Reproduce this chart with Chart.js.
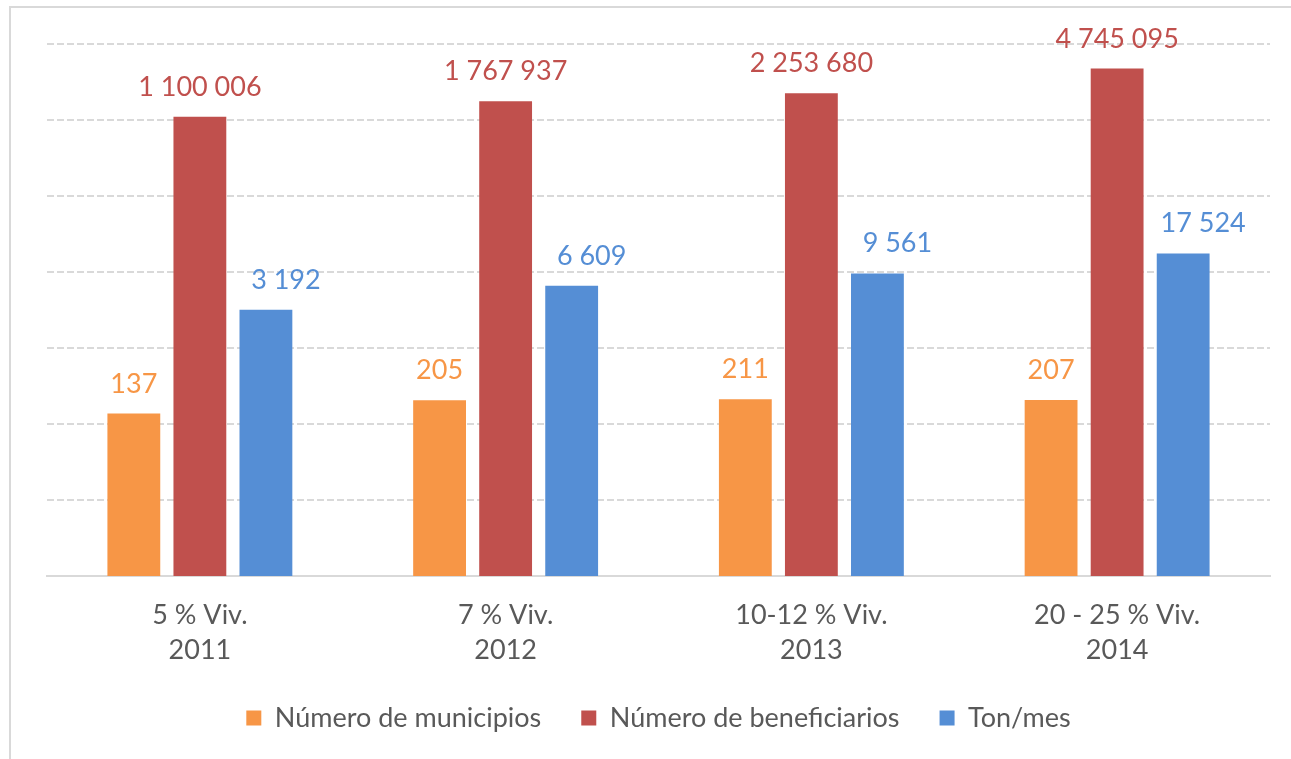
<!DOCTYPE html>
<html>
<head>
<meta charset="utf-8">
<script src="https://cdn.jsdelivr.net/npm/chart.js@4"></script>
<style>
  html, body { margin: 0; padding: 0; background: #fff; overflow: hidden; }
  #wrap { position: relative; width: 1291px; height: 759px; }
  #frame { position: absolute; left: 9px; top: 6px; width: 1300px; height: 800px; border: 2px solid #d9d9d9; box-sizing: border-box; }
  canvas { position: absolute; left: 0; top: 0; }
</style>
</head>
<body>
<div id="wrap">
  <div id="frame"></div>
  <canvas id="chart" width="1291" height="759"></canvas>
</div>
<script>
// categories (two-line labels)
let categories = [
    ['5 % Viv.', '2011'],
    ['7 % Viv.', '2012'],
    ['10-12 % Viv.', '2013'],
    ['20 - 25 % Viv.', '2014']
];
let municipios    = [137, 205, 211, 207];
let beneficiarios = [1100006, 1767937, 2253680, 4745095];
let tonMes        = [3192, 6609, 9561, 17524];
// log scale grid lines, one per decade
let gridTicks = [1, 10, 100, 1000, 10000, 100000, 1000000, 10000000];

let fontName = 'Lato';

function fmt(v) {
    return String(v).replace(/\B(?=(\d{3})+(?!\d))/g, ' ');
}

// draws the value over each bar (blue labels sit a bit to the right in the original)
let labelShift = [0, 0, 20];
let valueLabels = {
    id: 'valueLabels',
    afterDatasetsDraw(chart) {
        let ctx = chart.ctx;
        ctx.save();
        ctx.font = '27px ' + fontName;
        ctx.textAlign = 'center';
        ctx.textBaseline = 'alphabetic';
        chart.data.datasets.forEach((ds, i) => {
            let meta = chart.getDatasetMeta(i);
            ctx.fillStyle = ds.backgroundColor;
            meta.data.forEach((bar, j) => {
                ctx.fillText(fmt(ds.data[j]), bar.x + labelShift[i], bar.y - 21);
            });
        });
        ctx.restore();
    }
};

let ctx = document.getElementById('chart').getContext('2d');
new Chart(ctx, {
    type: 'bar',
    data: {
        labels: categories,
        datasets: [
            { label: 'Número de municipios',    data: municipios,    backgroundColor: '#F79646' },
            { label: 'Número de beneficiarios', data: beneficiarios, backgroundColor: '#C0504D' },
            { label: 'Ton/mes',                 data: tonMes,        backgroundColor: '#558ED5' }
        ]
    },
    options: {
        responsive: false,
        animation: false,
        devicePixelRatio: 1,
        layout: { padding: { left: 47, right: 21, top: 44, bottom: 17.5 } },
        datasets: { bar: { barPercentage: 0.8, categoryPercentage: 0.648 } },
        plugins: {
            tooltip: { enabled: false },
            legend: {
                position: 'bottom',
                labels: {
                    boxWidth: 15,
                    boxHeight: 15,
                    padding: 40,
                    color: '#595959',
                    font: { family: fontName, size: 27 }
                }
            }
        },
        scales: {
            x: {
                grid: { display: false, drawTicks: false },
                border: { display: true, color: '#d9d9d9', width: 2 },
                ticks: {
                    color: '#595959',
                    padding: 21.5,
                    font: { family: fontName, size: 27, lineHeight: 1.3 }
                },
                afterFit(scale) {
                    // labels overlap the legend's top padding, so don't clip them
                    scale.height = 88.5;
                    scale._computeLabelArea = function () { return undefined; };
                }
            },
            y: {
                type: 'logarithmic',
                min: 1,
                max: 10000000,
                afterBuildTicks(scale) {
                    scale.ticks = gridTicks.map(v => ({ value: v }));
                },
                afterFit(scale) { scale.width = 0; },
                ticks: { display: false },
                grid: { color: '#d9d9d9', lineWidth: 2, drawTicks: false },
                border: { display: false, dash: [7, 3] }
            }
        }
    },
    plugins: [valueLabels]
});
</script>
</body>
</html>
